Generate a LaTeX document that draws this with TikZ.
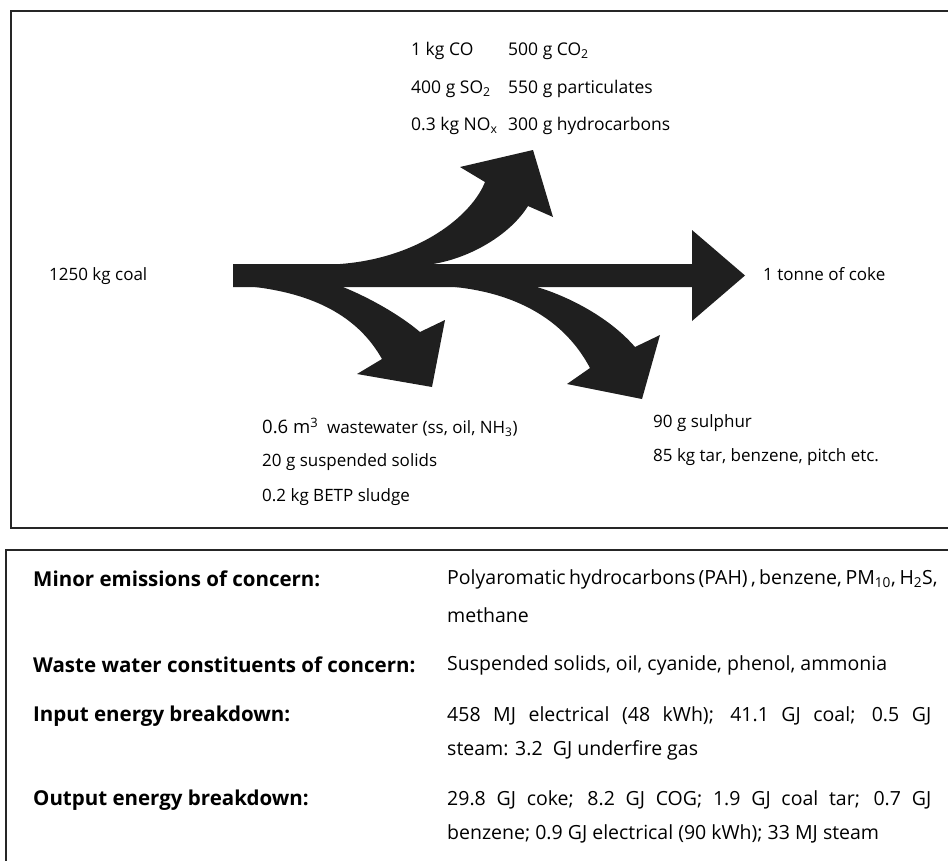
\documentclass[tikz,border=0pt]{standalone}
\usepackage{fontspec}
\setmainfont{Open Sans}
\begin{document}
\begin{tikzpicture}[x=1pt,y=-1pt,
  frame/.style={line width=1.4pt, draw=black!85},
  flow/.style={fill=black!88, draw=none},
  lbl/.style={anchor=west, inner sep=0pt, font=\fontsize{17}{20}\selectfont},
  toplbl/.style={anchor=west, inner sep=0pt, font=\fontsize{17.5}{21}\selectfont},
  hdr/.style={anchor=west, inner sep=0pt, font=\fontsize{20.5}{24}\selectfont\bfseries},
  txt/.style={anchor=west, inner sep=0pt, font=\fontsize{19.5}{23}\selectfont}]
\useasboundingbox (0,0) rectangle (948,860);

% frames (open on the right and at the bottom)
\draw[frame] (960,11) -- (11,11) -- (11,528) -- (960,528);
\draw[frame] (960,550) -- (6,550) -- (6,880);

% main flow: coal to coke
\fill[flow] (233,264) -- (692,264) -- (692,230) -- (745,275.5) -- (692,321)
  -- (692,287) -- (233,287) -- cycle;

% air emissions branch (upwards)
\fill[flow] (340,264) -- (433,264) .. controls (470,258) and (510,235) .. (528,206)
  -- (553,217) -- (533,150) -- (460,167) -- (485,182)
  .. controls (472,215) and (420,258) .. (340,264) -- cycle;

% wastewater branch (downwards, left)
\fill[flow] (255,287) -- (343,287) .. controls (370,298) and (400,315) .. (420,332)
  -- (445,320) -- (432,387) -- (357,374) -- (382,359)
  .. controls (360,320) and (320,295) .. (255,287) -- cycle;

% by-products branch (downwards, right)
\fill[flow] (455,287) -- (537,287) .. controls (570,297) and (610,318) .. (635,347)
  -- (660,335) -- (642,399) -- (567,384) -- (590,368)
  .. controls (570,330) and (530,295) .. (455,287) -- cycle;

% flow labels
\node[lbl] (coal) at (49,276) {1250 kg coal};
\node[lbl] (coke) at (763,274) {1 tonne of coke};

\node[toplbl] (co)   at (411,51)  {1 kg CO};
\node[toplbl] (co2)  at (508,51)  {500 g CO\textsubscript{2}};
\node[toplbl] (so2)  at (411,89)  {400 g SO\textsubscript{2}};
\node[toplbl] (pm)   at (508,89)  {550 g particulates};
\node[toplbl] (nox)  at (411,126) {0.3 kg NO\textsubscript{x}};
\node[toplbl] (hc)   at (508,126) {300 g hydrocarbons};

\node[lbl] (ww)   at (262,427) {{\fontsize{18.5}{20}\selectfont 0.6 m\textsuperscript{3}}\ \ wastewater (ss, oil, NH\textsubscript{3})};
\node[lbl] (ss)   at (262,462) {20 g suspended solids};
\node[lbl] (betp) at (262,497) {0.2 kg BETP sludge};

\node[lbl] (sul)  at (653,423) {90 g sulphur};
\node[lbl] (tar)  at (653,457) {85 kg tar, benzene, pitch etc.};

% summary table
\node[hdr] (h1) at (33,579) {Minor emissions of concern:};
\node[txt] (t1a) at (447,579) {\makebox[489pt][s]{Polyaromatic hydrocarbons (PAH) , benzene, PM\textsubscript{10}, H\textsubscript{2}S,}};
\node[txt] (t1b) at (447,615) {methane};
\node[hdr] (h2) at (33,665) {Waste water constituents of concern:};
\node[txt] (t2)  at (447,665) {Suspended solids, oil, cyanide, phenol, ammonia};
\node[hdr] (h3) at (33,716) {Input energy breakdown:};
\node[txt] (t3a) at (447,716) {\makebox[484pt][s]{458 MJ electrical (48 kWh); 41.1 GJ coal; 0.5 GJ}};
\node[txt] (t3b) at (447,750) {steam: 3.2\ \ GJ underfire gas};
\node[hdr] (h4) at (33,800) {Output energy breakdown:};
\node[txt] (t4a) at (447,800) {\makebox[484pt][s]{29.8 GJ coke; 8.2 GJ COG; 1.9 GJ coal tar; 0.7 GJ}};
\node[txt] (t4b) at (447,834) {benzene; 0.9 GJ electrical (90 kWh); 33 MJ steam};
\end{tikzpicture}
\end{document}
